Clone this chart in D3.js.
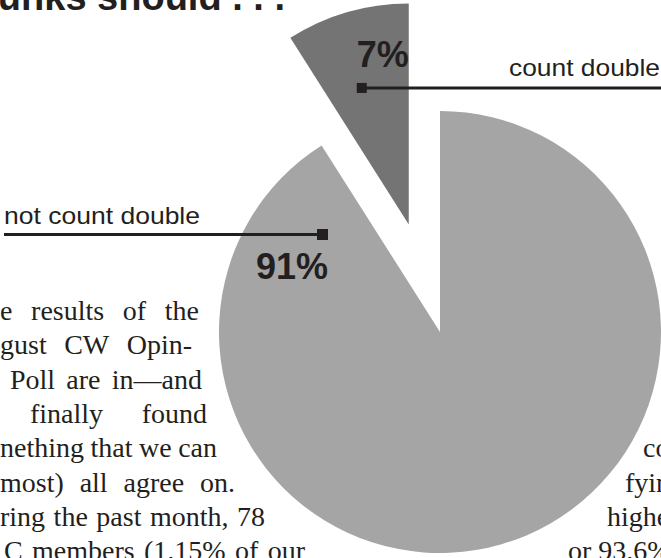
<!DOCTYPE html>
<html>
<head>
<meta charset="utf-8">
<script src="https://cdn.jsdelivr.net/npm/d3@7"></script>
<style>
  html, body { margin: 0; padding: 0; background: #fff; }
  svg { display: block; }
</style>
</head>
<body>
<div id="chart"></div>
<script>
// poll answers
var categories = ['not count double', 'count double', 'no answer'];
var values = [91, 7, 2];
var valueLabels = ['91%', '7%', ''];
var colors = ['#a5a5a5', '#747474', '#747474'];

var titleText = 'Skunks should . . .';

// body copy that wraps round the pie (cropped page)
var leftLines = [
	'e results of the',
	'gust CW Opin-',
	'Poll are in\u2014and',
	'finally found',
	'nething that we can',
	'most) all agree on.',
	'ring the past month, 78',
	'C members (1.15% of our'
];
var rightLines = ['count', 'fying', 'higher', 'or 93.6%'];

var width = 661, height = 558;
var ink = '#231f20';

var svg = d3.select('#chart').append('svg')
	.attr('width', width)
	.attr('height', height);

var cx = 440, cy = 332, radius = 221, explode = 112;

var data = categories.map(function(c, i) {
	return { name: c, value: values[i], label: valueLabels[i], color: colors[i] };
});

var pie = d3.pie().sort(null).value(function(d) { return d.value; });
var arcs = pie(data);
var arc = d3.arc().innerRadius(0).outerRadius(radius);

// the small slices are pulled out together as one wedge
var main = arcs[0];
var pulled = {
	startAngle: arcs[1].startAngle,
	endAngle: arcs[arcs.length - 1].endAngle,
	data: arcs[1].data
};
var mid = (pulled.startAngle + pulled.endAngle) / 2;
var px = cx + explode * Math.sin(mid);
var py = cy - explode * Math.cos(mid);

svg.append('path')
	.attr('d', arc(main))
	.attr('transform', 'translate(' + cx + ',' + cy + ')')
	.attr('fill', main.data.color);

svg.append('path')
	.attr('d', arc(pulled))
	.attr('transform', 'translate(' + px + ',' + py + ')')
	.attr('fill', pulled.data.color);

// title, cut at the top of the page
svg.append('text')
	.attr('x', 285)
	.attr('y', 10)
	.attr('text-anchor', 'end')
	.attr('font-family', 'Liberation Sans, Arial, sans-serif')
	.attr('font-weight', 'bold')
	.attr('font-size', 38)
	.attr('fill', ink)
	.text(titleText);

// percentage labels and leaders
function callout(opts) {
	svg.append('text')
		.attr('x', opts.lx).attr('y', opts.ly)
		.attr('text-anchor', 'end')
		.attr('font-family', 'Liberation Sans, Arial, sans-serif')
		.attr('font-weight', 'bold')
		.attr('font-size', 36)
		.attr('fill', ink)
		.text(opts.pct);

	svg.append('line')
		.attr('x1', opts.x1).attr('x2', opts.x2)
		.attr('y1', opts.sy).attr('y2', opts.sy)
		.attr('stroke', ink)
		.attr('stroke-width', 3);

	svg.append('rect')
		.attr('x', opts.sx - opts.size / 2).attr('y', opts.sy - opts.size / 2)
		.attr('width', opts.size).attr('height', opts.size)
		.attr('fill', ink);

	svg.append('text')
		.attr('x', opts.tx).attr('y', opts.ty)
		.attr('font-family', 'Liberation Sans, Arial, sans-serif')
		.attr('font-size', 24)
		.attr('textLength', opts.tw)
		.attr('lengthAdjust', 'spacingAndGlyphs')
		.attr('fill', ink)
		.text(opts.name);
}

callout({
	pct: main.data.label, name: main.data.name,
	lx: cx - 112, ly: cy - 53,
	sx: cx - 117.5, sy: cy - 97.5, size: 11,
	x1: 4, x2: cx - 117.5,
	tx: 4, ty: cy - 108, tw: 196
});

callout({
	pct: pulled.data.label, name: pulled.data.name,
	lx: px, ly: py - 157,
	sx: px - 47, sy: py - 136.5, size: 10,
	x1: px - 47, x2: width,
	tx: 509, ty: py - 148, tw: 151
});

// justified column text: spread words between left and right edges
function justifyLine(words, left, right, y) {
	var g = svg.append('g');
	var nodes = words.map(function(w) {
		return g.append('text')
			.attr('y', y)
			.attr('font-family', 'Liberation Serif, Times New Roman, serif')
			.attr('font-size', 28)
			.attr('fill', ink)
			.text(w);
	});
	var widths = nodes.map(function(n) { return n.node().getComputedTextLength(); });
	var total = d3.sum(widths);
	var gap = words.length > 1 ? (right - left - total) / (words.length - 1) : 0;
	var x = left;
	nodes.forEach(function(n, i) {
		n.attr('x', x);
		x += widths[i] + gap;
	});
}

var leftEdges = [0, 0, 10, 30, 0, 0, 0, 4];
var rightEdges = [199, 192, 202, 207, 217, 235, 265, 305];
var lineY = d3.range(leftLines.length).map(function(i) { return 320 + i * 34.3; });

leftLines.forEach(function(line, i) {
	justifyLine(line.split(' '), leftEdges[i], rightEdges[i], lineY[i]);
});

var rightStarts = [643, 625, 607, 568];
rightLines.forEach(function(line, i) {
	svg.append('text')
		.attr('x', rightStarts[i])
		.attr('y', lineY[i + 4])
		.attr('font-family', 'Liberation Serif, Times New Roman, serif')
		.attr('font-size', 28)
		.attr('fill', ink)
		.text(line);
});
</script>
</body>
</html>
